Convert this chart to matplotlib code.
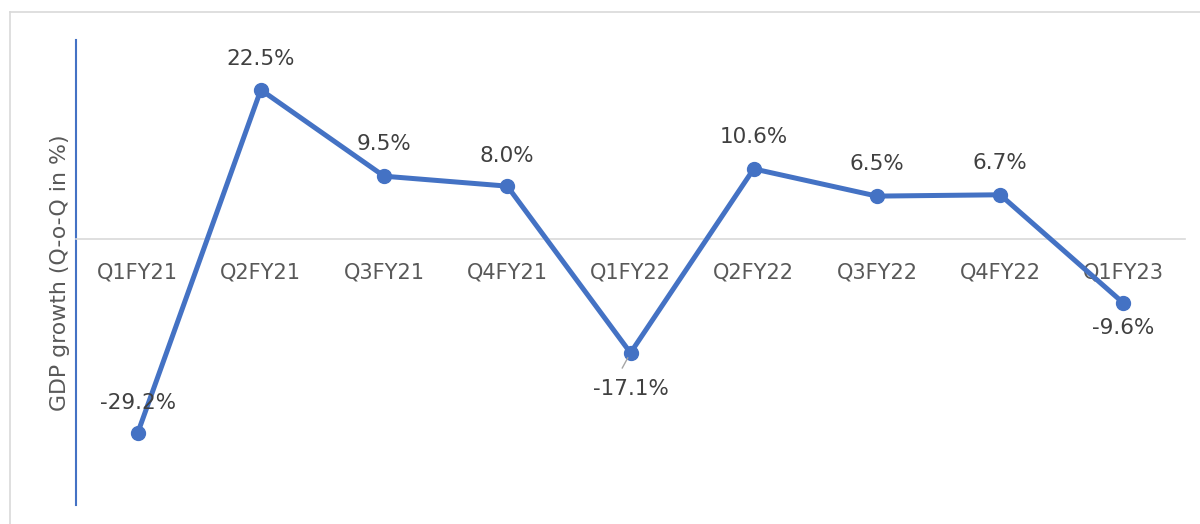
import matplotlib.pyplot as plt
from matplotlib.lines import Line2D

quarters = ['Q1FY21', 'Q2FY21', 'Q3FY21', 'Q4FY21', 'Q1FY22',
            'Q2FY22', 'Q3FY22', 'Q4FY22', 'Q1FY23']
growth = [-29.2, 22.5, 9.5, 8.0, -17.1, 10.6, 6.5, 6.7, -9.6]
# vertical offset of each data label, in points (negative = below the point)
label_dy = [22, 22, 23, 22, -26, 23, 23, 23, -18]

blue = '#4472C4'
text_col = '#404040'
plt.rcParams['font.family'] = ['DejaVu Sans']

fig = plt.figure(figsize=(12, 5.24), dpi=100)
ax = fig.add_axes([76 / 1200, 1 - 505 / 524, (1185 - 76) / 1200, 465 / 524])

# move the x axis onto y=0 first (this resets the ticks)
ax.spines['bottom'].set_position(('data', 0))
ax.spines['bottom'].set_color('#d9d9d9')
ax.spines['bottom'].set_linewidth(1.2)
ax.spines['left'].set_color(blue)
ax.spines['left'].set_linewidth(1.5)
ax.spines['top'].set_visible(False)
ax.spines['right'].set_visible(False)

x = list(range(len(quarters)))
ax.plot(x, growth, color=blue, linewidth=3.6, marker='o', markersize=10,
        solid_joinstyle='round', zorder=3)

for xi, v, dy in zip(x, growth, label_dy):
    ax.annotate(f'{v:.1f}%', (xi, v), xytext=(0, dy), textcoords='offset points',
                ha='center', va='center', fontsize=15.5, color=text_col)

# small leader line for the Q1FY22 label
ax.annotate('', xy=(4, -17.1), xytext=(-6, -11), textcoords='offset points',
            arrowprops=dict(arrowstyle='-', color='#a6a6a6', lw=1,
                            shrinkA=0, shrinkB=4))

ax.set_xlim(-0.5, len(quarters) - 0.5)
ax.set_ylim(-40, 30)
ax.set_xticks(x)
ax.set_xticklabels(quarters)
ax.tick_params(axis='x', length=0, pad=17, labelsize=15, labelcolor='#595959')
ax.set_yticks([])

ax.set_ylabel('GDP growth (Q-o-Q in %)', fontsize=15.8, color='#595959', labelpad=4)

# thin outer frame (top and left only)
fig.add_artist(Line2D([10 / 1200, 1], [1 - 12 / 524, 1 - 12 / 524],
                      transform=fig.transFigure, color='#d9d9d9', lw=1.2))
fig.add_artist(Line2D([10 / 1200, 10 / 1200], [0, 1 - 12 / 524],
                      transform=fig.transFigure, color='#d9d9d9', lw=1.2))

fig.savefig('out.png', dpi=100)
